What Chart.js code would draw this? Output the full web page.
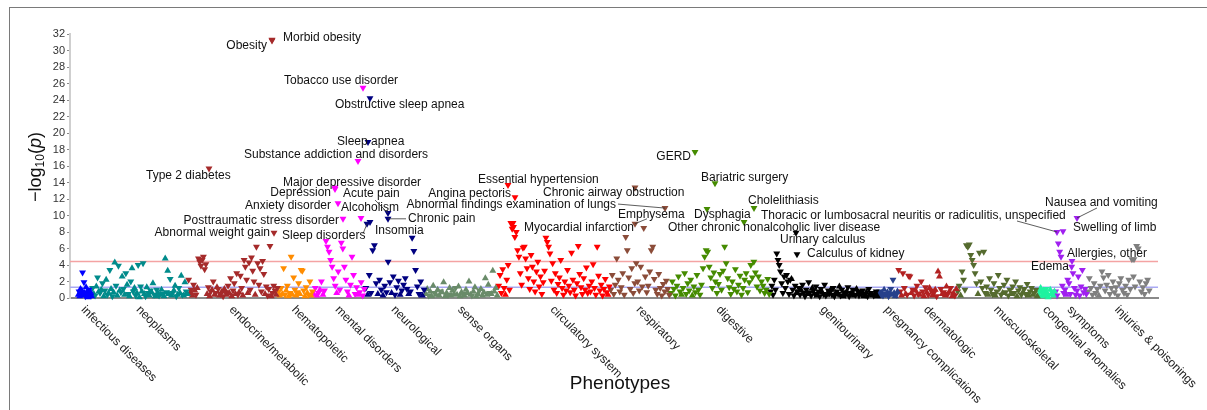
<!DOCTYPE html>
<html>
<head>
<meta charset="utf-8">
<script src="https://cdn.jsdelivr.net/npm/chart.js@4.4.1/dist/chart.umd.min.js"></script>
<style>
  html, body { margin: 0; padding: 0; background: #fff; }
  #wrap { position: relative; width: 1207px; height: 410px; overflow: hidden; }
  #frame { position: absolute; left: 9px; top: 7px; width: 1300px; height: 500px;
           border-left: 1px solid #7a7a7a; border-top: 1px solid #7a7a7a; pointer-events: none; }
  canvas { position: absolute; left: 0; top: 0; }
</style>
</head>
<body>
<div id="wrap">
  <canvas id="phewas" width="1207" height="410"></canvas>
  <div id="frame"></div>
</div>
<script>
(function () {
  "use strict";

  // ---- categories (phecode order index ranges) ----
  const catNames = ["infectious diseases", "neoplasms", "endocrine/metabolic", "hematopoietic",
    "mental disorders", "neurological", "sense organs", "circulatory system", "respiratory",
    "digestive", "genitourinary", "pregnancy complications", "dermatologic", "musculoskeletal",
    "congenital anomalies", "symptoms", "injuries & poisonings"];
  const catStart = [8, 22, 118, 208, 243, 295, 355, 428, 540, 600, 700, 808, 828, 887, 968, 985, 1017];
  const catEnd   = [22, 118, 208, 243, 295, 355, 428, 540, 600, 700, 808, 828, 887, 968, 985, 1017, 1080];
  const catColors = ["#0000ff", "#008b8b", "#a52a2a", "#ff8c00", "#ff00ff", "#000080", "#698b69",
    "#ff0000", "#8b4c39", "#458b00", "#000000", "#27408b", "#b22222", "#556b2f", "#1ef3a0",
    "#a020f0", "#7f7f7f"];

  // -log10(p) per phenotype, sign = direction of effect (negative = down triangle)
  const infectiousVals = [0.4, -0.8, 0.2, 1.1, -0.5, 0.9, -3.1, 0.3, -1.9, 0.6, -0.2, 1.3, 0.7, -0.4, 0.1, -1.0, 0.5, 0.8, -0.3, 0.2];
  const neoplasmVals = [-1.2, 0.5, -0.3, 1.4, -2.5, 0.8, -0.6, 1.0, -1.8, 0.2, -0.9, 2.2, -0.4, 0.6, -3.4, 1.1, -0.2, 0.7, 4.3, -1.5,
    0.3, -3.9, 0.9, -0.7, 2.6, -1.1, 0.4, -3.0, 1.6, -0.5, 0.2, -2.0, 3.6, -0.8, 1.2, -0.3, 0.6, -4.0, 0.1, -1.4,
    0.8, -4.2, 0.5, -0.2, 1.3, -0.6, 0.3, -0.9, 0.7, 1.8, -0.4, 0.2, -1.0, 0.6, -0.3, 0.4, 1.0, -0.5, 0.2, 4.8,
    -0.7, 3.3, 0.5, -2.3, 0.3, -0.6, 0.9, 1.5, -0.2, 0.4, -1.2, 0.6, 2.7, -0.4, 0.3, 1.9, -0.8, 0.5];
  const endocrineVals = [-2.2, 0.6, -1.0, 0.3, -1.6, 0.9, -0.4, 1.2, -4.8, -4.4, -3.9, -4.6, -5.0, -3.5, -4.1, 0.5, -1.3, 0.2, -0.8, 1.0,
    -2.0, 0.4, -0.6, 1.3, -1.1, 0.3, -0.5, 0.8, -0.2, 1.1, -0.7, 0.4, -1.5, 0.6, -2.4, 0.2, -0.9, -1.8, 0.5, -3.0,
    -0.4, 0.7, -2.7, -1.2, 0.3, -4.6, -3.8, -2.2, 0.6, -4.3, -1.0, -4.9, -3.3, -2.0, 0.4, -6.2, -4.2, -1.6, -3.6, -0.8,
    -4.5, -2.9, 0.5, -1.4, -0.3, -1.1, -6.3, 0.2, -0.6, -1.5, -0.9, 0.4, -1.2];
  const hematoVals = [-0.8, 0.3, -1.2, 0.5, -3.6, -0.4, 0.9, -1.5, 0.2, -0.6, -5.0, 0.4, -2.5, -1.0, 0.3, -0.7, -1.8, 0.5, -3.4, -3.3,
    -0.9, 0.2, -1.3, 0.6, -0.4, -2.0, 0.3, -0.8];
  const mentalVals = [0.5, -1.2, 0.3, -0.6, 1.0, -2.0, 0.4, -0.9, -6.9, -6.2, -5.6, -4.6, -3.8, -2.4, -1.5, 0.6, -3.2, -1.0, -6.7, -6.0,
    -3.8, -2.2, -0.8, 0.3, -1.6, -5.0, -2.8, -0.5, -1.3, 0.4, -0.7, -1.9, -0.3, -1.1];
  const neuroVals = [-1.2, 0.4, -2.8, -0.6, -5.8, -6.4, -1.8, 0.5, -2.2, -1.0, 0.3, -1.5, -0.7, -4.4, -1.9, 0.6, -2.6, -0.4, -1.3, -2.1,
    0.4, -0.9, -1.6, -2.4, -1.1, 0.5, -0.8, -7.3, -5.7, -3.4, -1.4, -0.5, -2.0, 0.3, -1.0];
  const senseVals = [0.5, 1.1, -0.3, 0.8, 0.2, 1.5, -0.6, 0.4, 1.0, 0.3, -0.8, 0.7, 1.9, 0.2, 0.6, -0.4, 1.2, 0.3, 0.9, 0.5,
    -1.2, 0.4, 1.4, 0.2, 0.7, -0.5, 0.3, 1.0, 0.6, 2.0, 0.4, -0.3, 0.8, 1.3, 0.2, 0.5, -0.9, 1.1, 0.3, 0.7,
    2.4, 0.4, 1.6, -0.6, 0.5, 3.3, 0.8, 1.2, 0.3];
  const circVals = [-1.5, -2.8, -0.6, -3.5, -1.2, 0.4, -2.2, -4.0, -1.0, -9.1, -8.4, -8.6, -7.4, -8.0, -5.8, -5.0, -3.0, -1.6, -6.1, -6.2,
    -4.8, -3.6, -2.4, -1.1, -5.2, -3.8, -2.0, -0.8, -3.2, -4.4, -1.4, -2.6, -0.5, -1.9, -3.3, -7.3, -6.8, -6.2, -5.4, -2.1,
    -4.2, -1.0, -3.0, -0.6, -1.7, -2.5, -4.6, -1.2, -0.4, -2.0, -0.9, -3.4, -1.5, -0.7, -5.5, -2.2, -1.0, -0.3, -1.8, -6.3,
    -2.9, -1.3, -0.5, -2.4, -1.0, -3.7, -0.6, -1.5, -0.8, -2.0, -4.1, -1.2, -0.4, -6.2, -2.7, -0.9, -1.6, -0.3, -1.1, -2.3,
    -0.7, 0.4, -1.4];
  const respVals = [-1.0, -2.8, -0.5, -1.6, -4.8, -2.2, -0.8, -1.3, -3.0, -0.4, -7.4, -5.8, -2.5, -1.1, -3.6, -0.6, -1.8, -4.2, -2.0, -0.9,
    -3.8, -1.4, -8.5, -2.6, -0.7, -1.5, -3.2, -5.8, -6.2, -2.3, -1.0, -0.5, -2.9, -1.2, -0.3, -1.7, -0.8, -2.1, -1.1, -0.4];
  const digestVals = [-0.6, -2.0, -1.1, -0.3, -1.5, -2.6, -0.8, 0.4, -1.2, -3.0, -0.5, -1.8, -0.9, -2.2, 0.3, -1.4, -0.7, -2.8, -1.0, -0.4,
    -1.6, -3.6, -5.0, -5.8, -5.6, -3.8, -2.5, -1.2, -3.1, -2.0, -0.6, -1.7, -2.9, -1.0, -3.3, -6.2, -4.2, -2.4, -1.3, -0.5,
    -2.0, -1.1, -3.5, -0.8, -1.6, -2.7, -0.4, -1.2, -2.2, -3.0, -0.7, -1.9, -4.0, -2.5, -4.4, -3.1, -1.4, -2.6, -0.9, -2.0,
    -1.5, -0.6, -1.0, -2.3, -0.5];
  const genitoVals = [-0.8, -1.5, -0.4, -2.2, -1.0, -5.4, -4.6, -4.0, -3.2, -1.8, -0.6, -2.6, -1.2, -2.8, -2.0, -0.5, -2.2, 2.3, -1.0, -0.3,
    -1.5, 0.6, -0.8, -1.2, -0.4, 0.9, -1.6, -0.6, -0.2, -1.0, 0.5, -1.9, -0.7, -0.3, 1.2, -0.9, -0.5, -1.4, 0.3, -0.8,
    -0.2, -1.1, 0.7, -0.5, -1.6, -0.3, 0.4, -0.9, -0.6, 1.0, -0.4, -1.2, -0.2, 0.6, -0.8, -0.5, 1.4, -0.3, -1.0, 0.2,
    -0.7, -0.4, 0.8, -1.3, -0.2, 0.5, -0.6, -1.0, 0.3, -0.4, 1.1, -0.8, -0.3, 0.6, -0.5, -0.9, 0.2, -0.4, 0.7, -0.2,
    -1.1, 0.4, -0.6, 0.3, -0.3, 0.5, -0.8, 0.2];
  const pregVals = [0.4, -0.8, 0.2, 0.6, -0.3, 1.0, -0.5, 0.3, 0.7, -0.2, 0.5, -1.1, 0.4, -2.2, 0.6, 0.2, -0.4, 0.8];
  const dermVals = [-3.4, -0.8, 0.3, -3.0, -1.2, 0.5, -0.4, -2.7, -2.6, 0.6, -1.0, -0.3, 0.9, -1.5, -0.5, 0.4, -2.0, -0.8, 0.2, -1.3,
    0.7, -0.4, 1.2, -0.9, 0.3, -0.6, 1.0, -0.2, 3.2, 2.6, -1.1, 0.5, -0.7, 0.3, 1.4, -0.5, 0.8, -1.2, 0.2, 0.6,
    -0.3, 1.1];
  const muscVals = [-0.8, -1.5, 0.3, -3.2, -2.2, -1.0, -6.4, -6.2, -6.5, -5.2, -4.6, -4.0, -3.0, -1.8, 0.5, -5.5, -2.0, -1.2, -5.6, -0.6,
    -1.4, 0.4, -2.4, -1.0, -0.5, -1.8, 0.3, -0.8, -2.8, -1.2, -0.4, 0.6, -1.6, -0.7, -2.2, -0.3, -1.0, 0.5, -1.4, -0.6,
    -2.0, 0.2, -0.9, -1.3, -0.4, 0.7, -1.1, -0.5, -1.7, 0.3, -0.8, -1.2, 0.4, -0.6, -1.0, 0.2];
  const congVals = [0.4, -0.8, 1.2, 0.2, -0.5, 0.9, 0.3, -1.1, 0.6, 0.1, -0.4, 1.0, 0.5, -0.7, 0.3, 0.8];
  const sympVals = [-0.8, -0.3, -6.6, -5.6, -5.0, -1.5, -0.6, -1.0, 0.4, -2.2, -1.8, -0.5, -3.8, -3.0, -1.2, -0.4, -0.9, -2.6, -0.3, -1.4,
    -3.4, -0.7, -1.1, -0.5];
  const injuryVals = [-0.8, -2.4, -1.2, -0.4, -1.8, -0.6, -1.1, 0.3, -1.5, -3.2, -2.5, -0.9, -1.6, -2.8, -0.5, -1.2, -2.0, -0.7, -1.3, -0.3,
    -1.8, -2.4, -1.0, -0.6, -1.5, -0.4, -2.2, -1.1, -4.7, -2.6, -1.4, -6.3, -6.0, -2.0, -0.8, -1.3, -0.5, -1.8, -2.2, -0.9];
  const catValues = [infectiousVals, neoplasmVals, endocrineVals, hematoVals, mentalVals, neuroVals, senseVals,
    circVals, respVals, digestVals, genitoVals, pregVals, dermVals, muscVals, congVals, sympVals, injuryVals];

  // ---- labelled hits ----
  const hitNames = ["Obesity", "Morbid obesity", "Tobacco use disorder", "Obstructive sleep apnea", "Sleep apnea",
    "Substance addiction and disorders", "Type 2 diabetes", "Major depressive disorder", "Depression",
    "Anxiety disorder", "Posttraumatic stress disorder", "Alcoholism", "Acute pain", "Chronic pain", "Insomnia",
    "Sleep disorders", "Abnormal weight gain", "Essential hypertension", "Angina pectoris",
    "Abnormal findings examination of lungs", "Chronic airway obstruction", "Emphysema", "Myocardial infarction",
    "GERD", "Bariatric surgery", "Dysphagia", "Cholelithiasis", "Other chronic nonalcoholic liver disease",
    "Urinary calculus", "Calculus of kidney", "Thoracic or lumbosacral neuritis or radiculitis, unspecified",
    "Swelling of limb", "Nausea and vomiting", "Edema", "Allergies, other"];
  const hitX = [202, 202, 293, 300, 298, 288, 139, 265, 265, 268, 273, 291, 318, 318, 300, 297, 204, 438, 445,
    595, 565, 565, 443, 625, 645, 637, 684, 674, 726, 727, 987, 993, 1007, 1002, 1064];
  const hitY = [-31.2, -31.3, -25.5, -24.2, -18.9, -16.6, -15.7, -13.4, -13.2, -11.5, -9.6, -9.7, -10.3, -9.6, -9.2,
    -9.0, -7.9, -13.7, -12.2, -10.9, -13.4, -9.0, -9.1, -17.7, -13.9, -10.8, -10.9, -9.2, -7.9, -5.3, -8.0,
    -8.1, -9.7, -4.5, -4.7];

  // significance lines: Bonferroni, nominal p = 0.05
  const thresholdValues = [4.42, 1.30];

  // ---- layout / style (pixel offsets of labels relative to their marker) ----
  const hitLayout = [
    [-5, 5, "right"], [11, -2, "left"], [-79, -7, "left"], [-35, 6, "left"], [-31, 0, "left"],
    [-114, -6, "left"], [-63, 7, "left"], [-52, -5, "left"], [-4, 4, "right"], [-7, 3, "right"],
    [-4, 2, "right"], [-20, -10, "left"], [-45, -19, "left", -13, -13], [20, 0, "left", 18, 0],
    [5, 9, "left"], [-85, 12, "left", -4, 10], [-4, 0, "right"], [-30, -5, "left"], [-4, -4, "right"],
    [-49, -3, "right", -47, -4], [-92, 5, "left"], [-17, -9, "left", 12, -5], [11, 5, "left"],
    [-4, 5, "right"], [-14, -6, "left"], [-13, 6, "left"], [-6, -7, "left"], [-76, 6, "left"],
    [-16, 7, "left"], [10, -1, "left"], [-296, -16, "left", -40, -11], [10, -3, "left"],
    [-32, -15, "left", 20, -10], [-3, 6, "right"], [-67, -6, "left"]];
  const thresholdColors = ["#f4a3a3", "#a9a9f3"];
  const FONT = '"Liberation Sans", Arial, Helvetica, sans-serif';

  const datasets = catNames.map((name, i) => {
    const vals = catValues[i];
    const step = (catEnd[i] - catStart[i]) / vals.length;
    const pts = vals.map((v, k) => ({ x: catStart[i] + (k + 0.5) * step, y: Math.abs(v), down: v < 0 }));
    hitX.forEach((hx, j) => {
      if (hx >= catStart[i] && hx < catEnd[i]) pts.push({ x: hx, y: Math.abs(hitY[j]), down: hitY[j] < 0 });
    });
    return {
      label: name,
      data: pts,
      pointStyle: "triangle",
      pointRadius: 4,
      pointHoverRadius: 4,
      pointRotation: c => (c.raw && c.raw.down ? 180 : 0),
      backgroundColor: catColors[i],
      borderColor: catColors[i],
      borderWidth: 0,
      clip: false
    };
  });

  const overlay = {
    id: "overlay",
    beforeDatasetsDraw(chart) {
      const { ctx, chartArea: a, scales: { y } } = chart;
      ctx.save();
      thresholdValues.forEach((t, i) => {
        const py = y.getPixelForValue(t);
        ctx.strokeStyle = thresholdColors[i];
        ctx.lineWidth = 1.4;
        ctx.beginPath();
        ctx.moveTo(a.left, py);
        ctx.lineTo(a.right, py);
        ctx.stroke();
      });
      ctx.restore();
    },
    afterDatasetsDraw(chart) {
      const { ctx, chartArea: a, scales: { x, y } } = chart;
      ctx.save();

      // leader lines + hit labels
      ctx.font = "12px " + FONT;
      ctx.fillStyle = "#111";
      ctx.textBaseline = "middle";
      hitNames.forEach((name, j) => {
        const mx = x.getPixelForValue(hitX[j]);
        const my = y.getPixelForValue(Math.abs(hitY[j]));
        const L = hitLayout[j];
        if (L.length > 3) {
          ctx.strokeStyle = "#333";
          ctx.lineWidth = 0.8;
          ctx.beginPath();
          ctx.moveTo(mx + L[3], my + L[4]);
          ctx.lineTo(mx, my);
          ctx.stroke();
        }
        ctx.textAlign = L[2];
        ctx.fillText(name, mx + L[0], my + L[1]);
      });

      // category labels, rotated, hanging from the midpoint of each block
      ctx.fillStyle = "#222";
      ctx.textAlign = "left";
      catNames.forEach((name, i) => {
        const px = x.getPixelForValue((catStart[i] + catEnd[i]) / 2);
        ctx.save();
        ctx.translate(px - 2, a.bottom + 10);
        ctx.rotate(Math.PI / 4);
        ctx.fillText(name, 0, 0);
        ctx.restore();
      });

      // x title
      ctx.font = "19px " + FONT;
      ctx.textAlign = "center";
      ctx.fillStyle = "#111";
      ctx.fillText("Phenotypes", 620, 384);

      // y title: -log10(p)
      ctx.save();
      ctx.translate(36, 167);
      ctx.rotate(-Math.PI / 2);
      const big = "18px " + FONT, small = "12px " + FONT, ital = "italic 18px " + FONT;
      const parts = [["\u2212log", big, 0], ["10", small, 5], ["(", big, 0], ["p", ital, 0], [")", big, 0]];
      let total = 0;
      parts.forEach(p => { ctx.font = p[1]; total += ctx.measureText(p[0]).width; });
      let cx = -total / 2;
      ctx.textAlign = "left";
      parts.forEach(p => {
        ctx.font = p[1];
        ctx.fillText(p[0], cx, p[2]);
        cx += ctx.measureText(p[0]).width;
      });
      ctx.restore();

      ctx.restore();
    }
  };

  new Chart(document.getElementById("phewas"), {
    type: "scatter",
    data: { datasets },
    options: {
      responsive: false,
      animation: false,
      events: [],
      layout: { padding: { left: 0, top: 34, right: 49, bottom: 0 } },
      plugins: { legend: { display: false }, tooltip: { enabled: false } },
      scales: {
        x: {
          type: "linear", min: 0, max: 1088,
          ticks: { display: false },
          grid: { display: false, drawTicks: false },
          border: { display: true, color: "#8a8a8a", width: 2 },
          afterFit: s => { s.height = 112; }
        },
        y: {
          min: 0, max: 32,
          ticks: { stepSize: 2, font: { size: 11, family: FONT }, color: "#333", padding: 2 },
          grid: { display: true, drawOnChartArea: false, drawTicks: true, tickLength: 3, color: "#888" },
          border: { display: true, color: "#cfcfcf", width: 2 },
          afterFit: s => { s.width = 70; }
        }
      }
    },
    plugins: [overlay]
  });
})();
</script>
</body>
</html>
